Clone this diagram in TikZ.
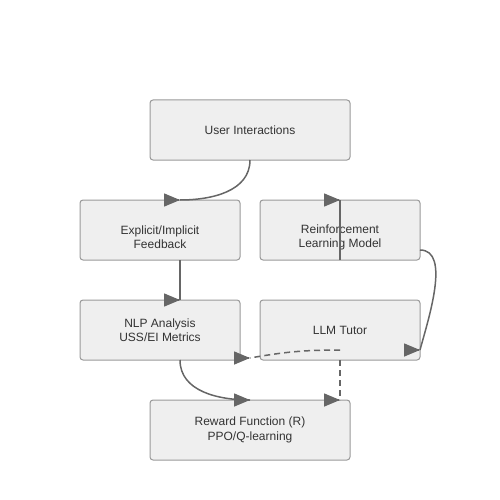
\documentclass[tikz,border=0pt]{standalone}
\usepackage{fontspec}
\setmainfont{Liberation Sans}
\usetikzlibrary{positioning,arrows.meta,calc}
\definecolor{boxfill}{HTML}{EFEFEF}
\definecolor{boxline}{HTML}{999999}
\definecolor{linecol}{HTML}{666666}
\definecolor{textcol}{HTML}{333333}

\begin{document}
\begin{tikzpicture}[x=1pt,y=-1pt,
    box/.style={draw=boxline,fill=boxfill,rounded corners=3pt,line width=1pt,
        minimum width=160pt,minimum height=60pt,inner sep=0pt,outer sep=0pt,
        align=center,text=textcol,font=\fontsize{12}{14.5}\selectfont},
    widebox/.style={box,minimum width=200pt},
    link/.style={draw=linecol,line width=1.5pt},
    dlink/.style={link,dash pattern=on 6pt off 4pt},
    headR/.style={draw=linecol,fill=linecol,line width=1.5pt,-{Triangle[length=16pt,width=13pt]}}]
    \useasboundingbox (0,0) rectangle (500,500);

    \node[widebox] (user) at (250,130) {User Interactions};
    \node[box, below=40pt of user, xshift=-90pt] (feedback) {\rule{0pt}{23pt}Explicit/Implicit\\Feedback};
    \node[box, right=20pt of feedback] (rl) {\rule{0pt}{23pt}Reinforcement\\Learning Model};
    \node[box, below=40pt of feedback] (nlp) {NLP Analysis\\USS/EI Metrics};
    \node[box, right=20pt of nlp] (llm) {LLM Tutor};
    \node[widebox, below=40pt of nlp, xshift=90pt] (reward) {Reward Function (R)\\PPO/Q-learning};

    \coordinate (fbin) at ($(feedback.north)+(20,0)$);
    \coordinate (fbout) at ($(feedback.south)+(20,0)$);
    \coordinate (nlpin) at ($(nlp.north)+(20,0)$);
    \coordinate (nlpout) at ($(nlp.south)+(20,0)$);
    \coordinate (rlout) at ($(rl.east)+(0,20)$);
    \coordinate (llmin) at ($(llm.east)+(0,20)$);
    \coordinate (llmout) at ($(llm.center)+(0,20)$);
    \coordinate (gap) at ($(llm.south west)+(-10,-2)$);
    \coordinate (rwin) at (reward.north -| llm.south);

    \draw[link] (user.south) to[out=-90,in=0] (fbin);
    \draw[link] (fbout) -- (nlpin);
    \draw[link] (rl.south) -- (rl.north);
    \draw[link] (rlout) to[out=0,in=75,looseness=0.8] (llmin);
    \draw[dlink] (llmout) to[out=180,in=10] (gap);
    \draw[dlink] (llm.south) -- (rwin);
    \draw[link] (nlpout) to[out=-90,in=180] (reward.north);

    \draw[headR] ($(fbin)-(1,0)$) -- (fbin);
    \draw[headR] ($(nlpin)-(1,0)$) -- (nlpin);
    \draw[headR] ($(rl.north)-(1,0)$) -- (rl.north);
    \draw[headR] ($(llmin)-(1,0)$) -- (llmin);
    \draw[headR] ($(gap)-(1,0)$) -- (gap);
    \draw[headR] ($(rwin)-(1,0)$) -- (rwin);
    \draw[headR] ($(reward.north)-(1,0)$) -- (reward.north);

    \end{tikzpicture}
\end{document}
